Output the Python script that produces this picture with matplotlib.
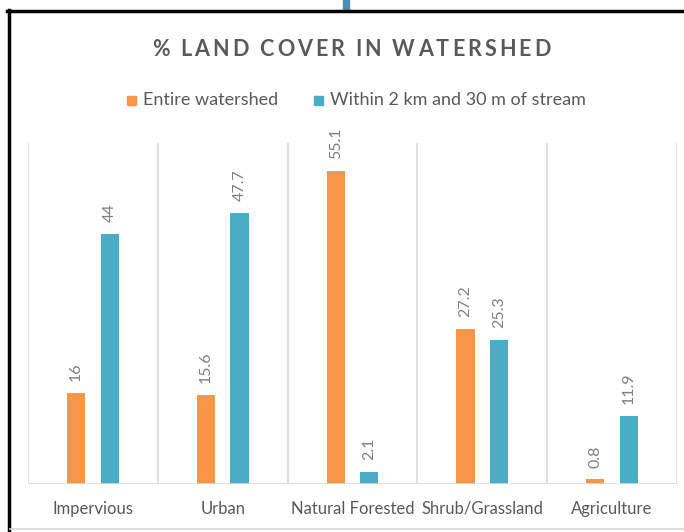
import matplotlib
matplotlib.use("Agg")
import matplotlib.pyplot as plt
from matplotlib.patches import Rectangle
from matplotlib.lines import Line2D
import numpy as np

categories = ["Impervious", "Urban", "Natural Forested", "Shrub/Grassland", "Agriculture"]
entire = [16, 15.6, 55.1, 27.2, 0.8]
within = [44, 47.7, 2.1, 25.3, 11.9]
entire_labels = ["16", "15.6", "55.1", "27.2", "0.8"]
within_labels = ["44", "47.7", "2.1", "25.3", "11.9"]
series_names = ["Entire watershed", "Within 2 km and 30 m of stream"]
title = "% LAND COVER IN WATERSHED"

ORANGE = "#F79646"
BLUE = "#4BACC6"
GRAY = "#595959"
LGRAY = "#7F7F7F"
GRID = "#D9D9D9"
FONT = ["Lato", "DejaVu Sans"]

W, H = 684, 532
fig = plt.figure(figsize=(W / 100, H / 100), dpi=100)
fig.patch.set_facecolor("white")

# axes placement in pixels
L, R, T, B = 28, 677, 143, 484
ax = fig.add_axes([L / W, (H - B) / H, (R - L) / W, (B - T) / H])

x = np.arange(len(categories))
bw = 0.14
off = 0.13
ax.bar(x - off, entire, bw, color=ORANGE, zorder=3)
ax.bar(x + off, within, bw, color=BLUE, zorder=3)

for i in range(len(categories)):
    ax.text(x[i] - off, entire[i] + 2.1, entire_labels[i], rotation=90, ha="center", va="bottom",
            color=LGRAY, fontsize=11.5, family=FONT)
    ax.text(x[i] + off, within[i] + 2.1, within_labels[i], rotation=90, ha="center", va="bottom",
            color=LGRAY, fontsize=11.5, family=FONT)

ax.set_xlim(-0.5, len(categories) - 0.5)
ax.set_ylim(0, 60)
for b in np.arange(-0.5, len(categories), 1.0):
    ax.axvline(b, color=GRID, lw=1.2, zorder=1)
for s in ax.spines.values():
    s.set_visible(False)
ax.axhline(0, color=GRID, lw=1.2, zorder=4)
ax.set_yticks([])
ax.set_xticks(x)
ax.set_xticklabels(categories, family=FONT, fontsize=12, color=GRAY)
ax.tick_params(axis="x", length=0, pad=12)

# title with letter tracking, drawn character by character
renderer = fig.canvas.get_renderer()
tracking = 3.0
title_size = 15.5
pieces = []
total = 0.0
for ch in title:
    t = fig.text(0, 0, ch if ch != " " else "\u00a0", fontsize=title_size, fontweight="bold",
                 color=GRAY, family=FONT, ha="left", va="center")
    w = t.get_window_extent(renderer).width
    if ch == " ":
        w = title_size * 0.32
    pieces.append((t, w))
    total += w + tracking
total -= tracking
cx = 351
start = cx - total / 2
for t, w in pieces:
    t.set_position((start / W, 1 - 50 / H))
    start += w + tracking

# legend
ly = 1 - 100 / H
fig.patches.append(Rectangle((127 / W, 1 - 105 / H), 9 / W, 9 / H, transform=fig.transFigure,
                             color=ORANGE))
fig.text(143 / W, ly, series_names[0], ha="left", va="center", fontsize=13, color=GRAY, family=FONT)
fig.patches.append(Rectangle((314 / W, 1 - 105 / H), 9 / W, 9 / H, transform=fig.transFigure,
                             color=BLUE))
fig.text(330 / W, ly, series_names[1], ha="left", va="center", fontsize=13, color=GRAY, family=FONT)

# frame decorations
fig.add_artist(Line2D([8.5 / W, 8.5 / W], [0, 1 - 10 / H], transform=fig.transFigure, color="black", lw=2.5))
fig.add_artist(Line2D([7 / W, 1], [1 - 11 / H, 1 - 11 / H], transform=fig.transFigure, color="black", lw=2.5))
fig.add_artist(Line2D([10 / W, 1], [1 - 529 / H, 1 - 529 / H], transform=fig.transFigure, color=GRID, lw=1.2))
fig.patches.append(Rectangle((343 / W, 1 - 10 / H), 6 / W, 10 / H, transform=fig.transFigure,
                             color="#4A8FB0"))

fig.savefig("out.png", dpi=100)
